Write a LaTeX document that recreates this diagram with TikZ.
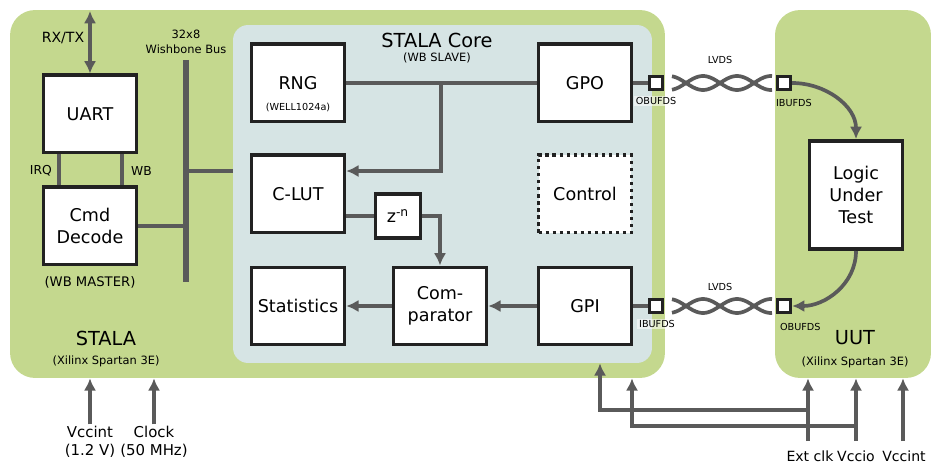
\documentclass[tikz,border=0pt]{standalone}
\usepackage{fontspec}
\setmainfont{DejaVu Sans}
\usetikzlibrary{arrows.meta}

\definecolor{fpga}{HTML}{C4D88E}
\definecolor{corebg}{HTML}{D6E4E4}
\definecolor{wire}{HTML}{5A5A5A}
\definecolor{edge}{HTML}{222222}

\begin{document}
\begin{tikzpicture}[x=0.02cm, y=-0.02cm,
    blk/.style={draw=edge, fill=white, line width=2pt, minimum width=1.86cm, minimum height=1.55cm, inner sep=0pt, align=center, font=\fontsize{10}{12.5}\selectfont},
    buf/.style={draw=edge, fill=white, line width=1.9pt, minimum size=0.26cm, inner sep=0pt},
    chip/.style={fill=fpga, rounded corners=0.5cm, inner sep=0pt},
    wirel/.style={draw=wire, line width=2.1pt},
    arr/.style={wirel, -{Latex[length=7pt,width=7pt]}},
    busl/.style={draw=wire, line width=3.6pt},
    tiny/.style={font=\fontsize{5.5}{6.5}\selectfont, inner sep=1pt},
    small/.style={font=\fontsize{6.5}{8.5}\selectfont, align=center},
    io/.style={font=\fontsize{8.5}{10.2}\selectfont, align=center, inner sep=1pt}
]
\useasboundingbox (0,0) rectangle (931,466);

% boards
\node[chip, minimum width=13.1cm, minimum height=7.36cm] (stala) at (337.5,194) {};
\node[chip, minimum width=3.12cm, minimum height=7.36cm] (uut) at (853,194) {};
\node[fill=corebg, rounded corners=0.3cm, minimum width=8.38cm, minimum height=6.76cm, inner sep=0pt] (core) at (442.5,194) {};

\node[font=\fontsize{11}{13}\selectfont] at (106,338) {STALA};
\node[small] at (106,361) {(Xilinx Spartan 3E)};
\node[font=\fontsize{11}{13}\selectfont] at (855,338) {UUT};
\node[small] at (855,362) {(Xilinx Spartan 3E)};
\node[font=\fontsize{11}{13}\selectfont] at (437,40) {STALA Core};
\node[small] at (437,58) {(WB SLAVE)};

% host side
\node[blk] (uart) at (90,114) {UART};
\node[blk] (cmd) at (90,226) {Cmd\\Decode};
\node[font=\fontsize{7.5}{9}\selectfont] at (90,282) {(WB MASTER)};
\coordinate (rxtx) at (90,11);
\draw[wirel, {Latex[length=7pt,width=7pt]}-{Latex[length=7pt,width=7pt]}] (rxtx) -- (uart.north);
\node[font=\fontsize{8}{9}\selectfont] at (63,38) {RX/TX};
\draw[wirel] ([xshift=-0.62cm]uart.south) -- ([xshift=-0.62cm]cmd.north);
\draw[wirel] ([xshift=0.64cm]uart.south) -- ([xshift=0.64cm]cmd.north);
\node[font=\fontsize{7}{8}\selectfont, anchor=east] at (58,171) {IRQ};
\node[font=\fontsize{7}{8}\selectfont, anchor=west] at (125,171) {WB};

% bus
\coordinate (bustop) at (186,60);
\coordinate (busbot) at (186,282);
\draw[busl] (bustop) -- (busbot);
\node[small] at (186,42) {32x8\\Wishbone Bus};
\draw[wirel] (cmd.east) -- (cmd.east -| bustop);
\draw[wirel] (bustop |- 0,171) -- (core.west |- 0,171);

% core
\node[blk] (rng) at (298,83) {RNG};
\node[font=\fontsize{5.5}{6.5}\selectfont] at (298,107) {(WELL1024a)};
\node[blk] (clut) at (298,194) {C-LUT};
\node[blk, minimum width=0.9cm, minimum height=0.88cm] (zdel) at (398,216) {z\textsuperscript{-n}};
\node[blk] (stat) at (298,306) {Statistics};
\node[blk] (cmp) at (440,306) {Com-\\parator};
\node[blk] (gpo) at (585,83) {GPO};
\node[blk, dash pattern=on 2pt off 2pt] (ctrl) at (585,194) {Control};
\node[blk] (gpi) at (585,306) {GPI};

\coordinate (tap) at (441,83);
\draw[wirel] (rng.east) -- (gpo.west);
\draw[arr] (tap) |- ([yshift=0.46cm]clut.east);
\draw[wirel] (clut.east |- zdel.west) -- (zdel.west);
\draw[arr] (zdel.east) -| (cmp.north);
\draw[arr] (cmp.west) -- (stat.east);
\draw[arr] (gpi.west) -- (cmp.east);

% LVDS links
\node[buf] (obo) at (656,83) {};
\node[buf] (ibi) at (656,306) {};
\node[buf] (ibu) at (784,83) {};
\node[buf] (obu) at (784,306) {};
\draw[wirel] (gpo.east) -- (obo.west);
\draw[wirel] (gpi.east) -- (ibi.west);
\node[tiny, fill=white, fill opacity=0.55, text opacity=1] at (656,101) {OBUFDS};
\node[tiny, fill=white, fill opacity=0.55, text opacity=1] at (657,324) {IBUFDS};
\node[tiny, anchor=west] at (774,103) {IBUFDS};
\node[tiny, anchor=west] at (778,327) {OBUFDS};
\foreach \yy in {83,306} {
  \draw[wirel] plot[domain=672:772, samples=60] (\x, {\yy+7*sin(180*(\x-686)/34)});
  \draw[wirel] plot[domain=672:772, samples=60] (\x, {\yy-7*sin(180*(\x-686)/34)});
}
\node[tiny] at (720,60) {LVDS};
\node[tiny] at (720,287) {LVDS};

% UUT
\node[blk, minimum height=2.17cm] (lut) at (856,195) {Logic\\Under\\Test};
\draw[arr] (ibu.east) to[out=0, in=90] (lut.north);
\draw[arr] (lut.south) to[out=-90, in=0] (obu.east);

% supplies
\node[io] (vccint) at (90,442) {Vccint\\(1.2 V)};
\node[io] (clock) at (154,442) {Clock\\(50 MHz)};
\draw[arr] (vccint.north) -- (vccint.north |- stala.south);
\draw[arr] (clock.north) -- (clock.north |- stala.south);

\node[font=\fontsize{8}{10}\selectfont, inner sep=0pt] (extclk) at (810,456) {Ext clk};
\node[font=\fontsize{8}{10}\selectfont, inner sep=0pt] (vccio) at (856,456) {Vccio};
\node[font=\fontsize{8}{10}\selectfont, inner sep=0pt] (vccu) at (904,456) {Vccint};
\coordinate (ecin) at (808,441);
\coordinate (vioin) at (856,441);
\coordinate (vuin) at (903,441);
\draw[arr] (ecin) -- (ecin |- uut.south);
\draw[arr] (vioin) -- (vioin |- uut.south);
\draw[arr] (vuin) -- (vuin |- uut.south);
\draw[arr] (ecin |- 0,410) -| (core.south -| 600,0);
\draw[arr] (vioin |- 0,426) -| (stala.south -| 632,0);
\end{tikzpicture}
\end{document}
